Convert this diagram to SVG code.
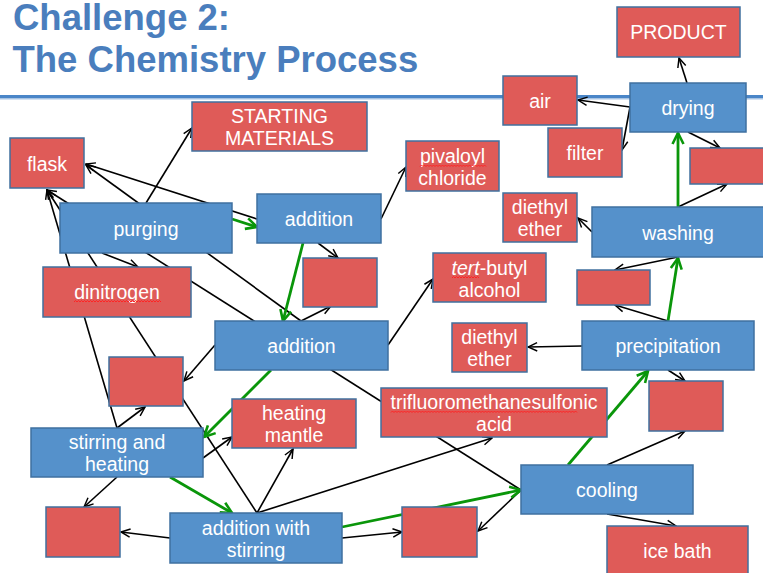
<svg xmlns="http://www.w3.org/2000/svg" width="763" height="573" viewBox="0 0 763 573">
<style>
.title{font-family:"Liberation Sans",Arial,sans-serif;font-weight:bold;font-size:36.5px;fill:#4a7ebd}
.b rect{fill:#5591cb;stroke:#3f70a0;stroke-width:1.5}
.r rect{fill:#df5b58;stroke:#40709e;stroke-width:1.5}
text.t{font-family:"Liberation Sans",Arial,sans-serif;font-size:19.5px;fill:#ffffff;text-anchor:middle}
.k{stroke:#000;stroke-width:1.6;fill:none;marker-end:url(#ak)}
.g{stroke:#0a960a;stroke-width:2.8;fill:none;marker-end:url(#ag)}
.sq{fill:none;stroke:#ff2424;stroke-width:1}
</style>
<defs>
<marker id="ak" viewBox="0 0 12 12" refX="11" refY="6" markerWidth="11" markerHeight="11" markerUnits="userSpaceOnUse" orient="auto">
<path d="M1,1.5 L11,6 L1,10.5" fill="none" stroke="#000" stroke-width="1.6"/>
</marker>
<marker id="ag" viewBox="0 0 14 14" refX="12.5" refY="7" markerWidth="14" markerHeight="14" markerUnits="userSpaceOnUse" orient="auto">
<path d="M1.5,1.5 L12.5,7 L1.5,12.5" fill="none" stroke="#0a960a" stroke-width="2.6"/>
</marker>
</defs>
<rect width="763" height="573" fill="#ffffff"/>
<text class="title" x="13" y="30">Challenge 2:</text>
<text class="title" x="12.5" y="72">The Chemistry Process</text>
<rect x="0" y="95" width="763" height="3.5" fill="#4a86c8"/>
<rect x="0" y="98.5" width="763" height="1" fill="#a9c6e6"/>

<g id="connectors">
<line class="k" x1="257" y1="219" x2="86" y2="164"/>
<line class="k" x1="301" y1="321" x2="86" y2="165"/>
<line class="k" x1="117" y1="428" x2="47" y2="190"/>
<line class="k" x1="257" y1="513" x2="47" y2="190"/>
<line class="k" x1="521" y1="490" x2="47" y2="190"/>
<line class="k" x1="146" y1="203" x2="192" y2="128"/>
<line class="k" x1="102" y1="253" x2="138" y2="267"/>
<line class="k" x1="381" y1="219" x2="406" y2="167"/>
<line class="k" x1="318" y1="243" x2="338" y2="258"/>
<line class="k" x1="301" y1="321" x2="331" y2="306"/>
<line class="k" x1="388" y1="345" x2="433" y2="279"/>
<line class="k" x1="215" y1="345" x2="184" y2="381"/>
<line class="k" x1="117" y1="428" x2="145" y2="407"/>
<line class="k" x1="203" y1="458" x2="232" y2="437"/>
<line class="k" x1="117" y1="477" x2="84" y2="507"/>
<line class="k" x1="257" y1="513" x2="293" y2="449"/>
<line class="k" x1="257" y1="513" x2="492" y2="438"/>
<line class="k" x1="170" y1="538" x2="121" y2="532"/>
<line class="k" x1="342" y1="538" x2="402" y2="532"/>
<line class="k" x1="521" y1="490" x2="478" y2="531"/>
<line class="k" x1="607" y1="465" x2="685" y2="431"/>
<line class="k" x1="607" y1="514" x2="676" y2="526"/>
<line class="k" x1="668" y1="370" x2="685" y2="381"/>
<line class="k" x1="582" y1="346" x2="528" y2="347"/>
<line class="k" x1="668" y1="321" x2="615" y2="305"/>
<line class="k" x1="678" y1="257" x2="615" y2="270"/>
<line class="k" x1="592" y1="232" x2="578" y2="218"/>
<line class="k" x1="678" y1="207" x2="727" y2="184"/>
<line class="k" x1="688" y1="132" x2="720" y2="148"/>
<line class="k" x1="687" y1="83" x2="679" y2="58"/>
<line class="k" x1="630" y1="107" x2="578" y2="100"/>
<line class="k" x1="630" y1="107" x2="622" y2="150"/>
<line class="g" x1="232" y1="219" x2="257" y2="227"/>
<line class="g" x1="303" y1="243" x2="283" y2="321"/>
<line class="g" x1="271" y1="370" x2="204" y2="437"/>
<line class="g" x1="170" y1="477" x2="232" y2="513"/>
<line class="g" x1="342" y1="527" x2="521" y2="490"/>
<line class="g" x1="568" y1="465" x2="648" y2="371"/>
<line class="g" x1="668" y1="321" x2="678" y2="258"/>
<line class="g" x1="678" y1="207" x2="678" y2="133"/>
</g>

<g id="purging" class="b"><rect x="60" y="203" width="172" height="50"/><text class="t" x="146" y="235.5">purging</text></g>
<g id="addition1" class="b"><rect x="257" y="194" width="124" height="49"/><text class="t" x="319" y="225.5">addition</text></g>
<g id="addition2" class="b"><rect x="215" y="321" width="173" height="49"/><text class="t" x="301.5" y="352.5">addition</text></g>
<g id="stirring-heating" class="b"><rect x="31" y="428" width="172" height="49"/><text class="t" x="117" y="449">stirring and</text><text class="t" x="117" y="471">heating</text></g>
<g id="addition-stirring" class="b"><rect x="170" y="513" width="172" height="50"/><text class="t" x="256" y="534.5">addition with</text><text class="t" x="256" y="556.5">stirring</text></g>
<g id="cooling" class="b"><rect x="521" y="465" width="172" height="49"/><text class="t" x="607" y="496.5">cooling</text></g>
<g id="precipitation" class="b"><rect x="582" y="321" width="172" height="49"/><text class="t" x="668" y="352.5">precipitation</text></g>
<g id="washing" class="b"><rect x="592" y="207" width="174" height="50"/><text class="t" x="678" y="239.5">washing</text></g>
<g id="drying" class="b"><rect x="630" y="83" width="116" height="49"/><text class="t" x="688" y="114.5">drying</text></g>

<g id="product" class="r"><rect x="617" y="7" width="123" height="50"/><text class="t" x="678.5" y="39">PRODUCT</text></g>
<g id="air" class="r"><rect x="503" y="76" width="74" height="49"/><text class="t" x="540" y="107.5">air</text></g>
<g id="filter" class="r"><rect x="548" y="128" width="74" height="49"/><text class="t" x="585" y="159.5">filter</text></g>
<g id="blank-drying" class="r"><rect x="690" y="148" width="76" height="36"/></g>
<g id="diethyl-ether1" class="r"><rect x="503" y="193" width="74" height="49"/><text class="t" x="540" y="214">diethyl</text><text class="t" x="540" y="236">ether</text></g>
<g id="blank-washing" class="r"><rect x="577" y="270" width="73" height="35"/></g>
<g id="pivaloyl" class="r"><rect x="406" y="141" width="93" height="50"/><text class="t" x="452.5" y="162.5">pivaloyl</text><text class="t" x="452.5" y="184.5">chloride</text>
<path class="sq" d="M420 166.5l1.5-1.5 1.5 1.5 1.5-1.5 1.5 1.5 1.5-1.5 1.5 1.5 1.5-1.5 1.5 1.5 1.5-1.5 1.5 1.5 1.5-1.5 1.5 1.5 1.5-1.5 1.5 1.5 1.5-1.5 1.5 1.5 1.5-1.5 1.5 1.5 1.5-1.5 1.5 1.5 1.5-1.5 1.5 1.5 1.5-1.5 1.5 1.5 1.5-1.5 1.5 1.5 1.5-1.5 1.5 1.5 1.5-1.5 1.5 1.5 1.5-1.5 1.5 1.5 1.5-1.5 1.5 1.5 1.5-1.5 1.5 1.5 1.5-1.5 1.5 1.5 1.5-1.5 1.5 1.5 1.5-1.5 1.5 1.5 1.5-1.5 1.5 1.5"/></g>
<g id="tert-butyl" class="r"><rect x="433" y="253" width="113" height="49"/><text class="t" x="489.5" y="274.5"><tspan font-style="italic">tert</tspan>-butyl</text><text class="t" x="489.5" y="296.5">alcohol</text>
<path class="sq" d="M452 278l1.5-1.5 1.5 1.5 1.5-1.5 1.5 1.5 1.5-1.5 1.5 1.5 1.5-1.5 1.5 1.5 1.5-1.5 1.5 1.5 1.5-1.5 1.5 1.5 1.5-1.5 1.5 1.5 1.5-1.5 1.5 1.5 1.5-1.5 1.5 1.5"/></g>
<g id="starting" class="r"><rect x="192" y="102" width="175" height="49"/><text class="t" x="279.5" y="123">STARTING</text><text class="t" x="279.5" y="145">MATERIALS</text></g>
<g id="flask" class="r"><rect x="10" y="138" width="74" height="50"/><text class="t" x="47" y="170.5">flask</text></g>
<g id="dinitrogen" class="r"><rect x="43" y="267" width="148" height="50"/><text class="t" x="117" y="298.5">dinitrogen</text>
<path class="sq" d="M74 302l1.5-1.5 1.5 1.5 1.5-1.5 1.5 1.5 1.5-1.5 1.5 1.5 1.5-1.5 1.5 1.5 1.5-1.5 1.5 1.5 1.5-1.5 1.5 1.5 1.5-1.5 1.5 1.5 1.5-1.5 1.5 1.5 1.5-1.5 1.5 1.5 1.5-1.5 1.5 1.5 1.5-1.5 1.5 1.5 1.5-1.5 1.5 1.5 1.5-1.5 1.5 1.5 1.5-1.5 1.5 1.5 1.5-1.5 1.5 1.5 1.5-1.5 1.5 1.5 1.5-1.5 1.5 1.5 1.5-1.5 1.5 1.5 1.5-1.5 1.5 1.5 1.5-1.5 1.5 1.5 1.5-1.5 1.5 1.5 1.5-1.5 1.5 1.5 1.5-1.5 1.5 1.5 1.5-1.5 1.5 1.5 1.5-1.5 1.5 1.5 1.5-1.5 1.5 1.5 1.5-1.5 1.5 1.5 1.5-1.5 1.5 1.5 1.5-1.5 1.5 1.5"/></g>
<g id="blank-addition1" class="r"><rect x="303" y="258" width="74" height="49"/></g>
<g id="blank-addition2" class="r"><rect x="109" y="357" width="74" height="49"/></g>
<g id="heating-mantle" class="r"><rect x="232" y="399" width="124" height="49"/><text class="t" x="294" y="420">heating</text><text class="t" x="294" y="442">mantle</text></g>
<g id="trifluoro" class="r"><rect x="381" y="388" width="226" height="49"/><text class="t" x="494" y="409">trifluoromethanesulfonic</text><text class="t" x="494" y="431">acid</text>
<path class="sq" d="M391 412.5l1.5-1.5 1.5 1.5 1.5-1.5 1.5 1.5 1.5-1.5 1.5 1.5 1.5-1.5 1.5 1.5 1.5-1.5 1.5 1.5 1.5-1.5 1.5 1.5 1.5-1.5 1.5 1.5 1.5-1.5 1.5 1.5 1.5-1.5 1.5 1.5 1.5-1.5 1.5 1.5 1.5-1.5 1.5 1.5 1.5-1.5 1.5 1.5 1.5-1.5 1.5 1.5 1.5-1.5 1.5 1.5 1.5-1.5 1.5 1.5 1.5-1.5 1.5 1.5 1.5-1.5 1.5 1.5 1.5-1.5 1.5 1.5 1.5-1.5 1.5 1.5 1.5-1.5 1.5 1.5 1.5-1.5 1.5 1.5 1.5-1.5 1.5 1.5 1.5-1.5 1.5 1.5 1.5-1.5 1.5 1.5 1.5-1.5 1.5 1.5 1.5-1.5 1.5 1.5 1.5-1.5 1.5 1.5 1.5-1.5 1.5 1.5 1.5-1.5 1.5 1.5 1.5-1.5 1.5 1.5 1.5-1.5 1.5 1.5 1.5-1.5 1.5 1.5 1.5-1.5 1.5 1.5 1.5-1.5 1.5 1.5 1.5-1.5 1.5 1.5 1.5-1.5 1.5 1.5 1.5-1.5 1.5 1.5 1.5-1.5 1.5 1.5 1.5-1.5 1.5 1.5 1.5-1.5 1.5 1.5 1.5-1.5 1.5 1.5 1.5-1.5 1.5 1.5 1.5-1.5 1.5 1.5 1.5-1.5 1.5 1.5 1.5-1.5 1.5 1.5 1.5-1.5 1.5 1.5 1.5-1.5 1.5 1.5 1.5-1.5 1.5 1.5 1.5-1.5 1.5 1.5 1.5-1.5 1.5 1.5 1.5-1.5 1.5 1.5 1.5-1.5 1.5 1.5 1.5-1.5 1.5 1.5 1.5-1.5 1.5 1.5 1.5-1.5 1.5 1.5 1.5-1.5 1.5 1.5 1.5-1.5 1.5 1.5 1.5-1.5 1.5 1.5 1.5-1.5 1.5 1.5 1.5-1.5 1.5 1.5 1.5-1.5 1.5 1.5 1.5-1.5 1.5 1.5"/></g>
<g id="diethyl-ether2" class="r"><rect x="452" y="323" width="75" height="49"/><text class="t" x="489.5" y="344">diethyl</text><text class="t" x="489.5" y="366">ether</text></g>
<g id="blank-precipitation" class="r"><rect x="649" y="381" width="74" height="50"/></g>
<g id="blank-stirring" class="r"><rect x="46" y="507" width="74" height="50"/></g>
<g id="blank-cooling" class="r"><rect x="402" y="507" width="75" height="50"/></g>
<g id="ice-bath" class="r"><rect x="607" y="526" width="141" height="50"/><text class="t" x="677.5" y="558">ice bath</text></g>
</svg>
